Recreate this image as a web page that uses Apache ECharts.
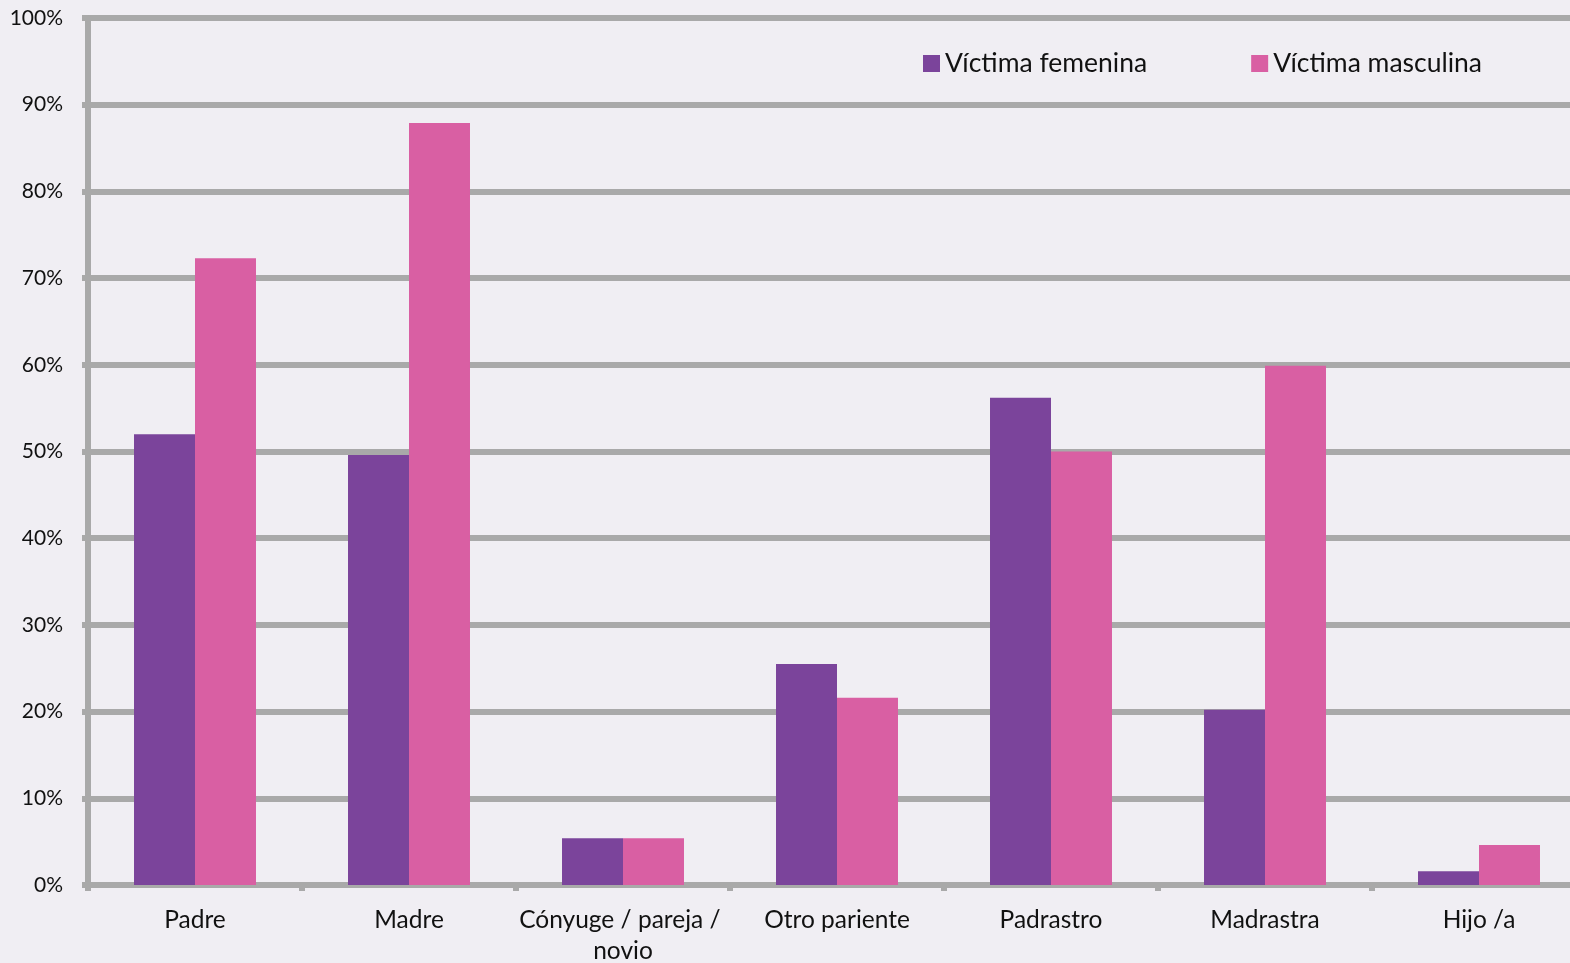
<!DOCTYPE html>
<html>
<head>
<meta charset="utf-8">
<script src="https://cdn.jsdelivr.net/npm/echarts@6/dist/echarts.min.js"></script>
<style>
html,body{margin:0;padding:0;background:#f0eef3;}
#c{width:1570px;height:963px;}
</style>
</head>
<body>
<div id="c"></div>
<script>
const categories = ["Padre", "Madre", "Cónyuge / pareja / novio", "Otro pariente", "Padrastro", "Madrastra", "Hijo /a"];
const femenina = [52, 49.6, 5.4, 25.5, 56.2, 20.2, 1.6];
const masculina = [72.3, 87.9, 5.4, 21.6, 50, 59.9, 4.6];
const yTicks = [0, 10, 20, 30, 40, 50, 60, 70, 80, 90, 100];

const chart = echarts.init(document.getElementById('c'));
const font = 'Lato, "Open Sans", sans-serif';
chart.setOption({
  backgroundColor: '#f0eef3',
  animation: false,
  legend: {
    top: 45, left: 918,
    itemWidth: 17, itemHeight: 17, itemGap: 104,
    icon: 'rect',
    textStyle: { fontFamily: font, fontSize: 26.5, color: '#111' },
    data: ['Víctima femenina', 'Víctima masculina']
  },
  grid: { left: 88, top: 18, right: -16, bottom: 78, containLabel: false, outerBoundsMode: 'none' },
  xAxis: {
    type: 'category',
    data: categories,
    axisLine: { lineStyle: { color: '#a9a9a9', width: 6 } },
    axisTick: { show: true, length: 6, lineStyle: { color: '#a9a9a9', width: 6 } },
    axisLabel: {
      fontFamily: font, fontSize: 24.5, color: '#111', margin: 20,
      width: 228, overflow: 'break', lineHeight: 31, interval: 0
    }
  },
  yAxis: {
    type: 'value', min: 0, max: 100, interval: 10,
    axisLine: { show: true, lineStyle: { color: '#a9a9a9', width: 6 } },
    axisTick: { show: true, length: 6, lineStyle: { color: '#a9a9a9', width: 6 } },
    splitLine: { lineStyle: { color: '#a9a9a9', width: 6 } },
    axisLabel: {
      fontFamily: font, fontSize: 21, color: '#111', margin: 25,
      formatter: v => yTicks.includes(v) ? v + '%' : ''
    }
  },
  series: [
    { name: 'Víctima femenina', type: 'bar', data: femenina, barGap: '0%', barCategoryGap: '43%',
      itemStyle: { color: '#7b449b' } },
    { name: 'Víctima masculina', type: 'bar', data: masculina, barGap: '0%', barCategoryGap: '43%',
      itemStyle: { color: '#d95fa3' } }
  ]
});
</script>
</body>
</html>
